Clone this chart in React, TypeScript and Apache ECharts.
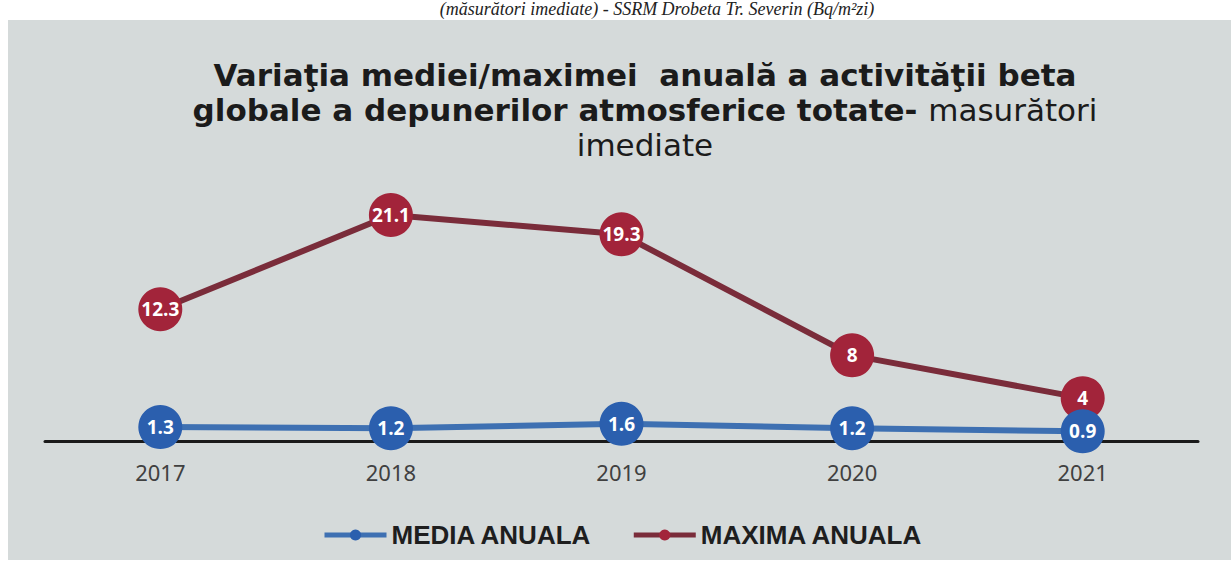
import React, { useEffect, useRef } from "react";
import * as echarts from "echarts";

const years = ["2017", "2018", "2019", "2020", "2021"];
const mediaAnuala = [1.3, 1.2, 1.6, 1.2, 0.9];
const maximaAnuala = [12.3, 21.1, 19.3, 8, 4];
const seriesNames = ["MEDIA ANUALA", "MAXIMA ANUALA"];
const titleLine1 = "Variaţia mediei/maximei  anuală a activităţii beta";
const titleLine2Bold = "globale a depunerilor atmosferice totate- ";
const titleLine2Regular = "masurători";
const titleLine3 = "imediate";
const headerText = "(măsurători imediate) - SSRM Drobeta Tr. Severin (Bq/m²zi)";

export default function App() {
  const ref = useRef<HTMLDivElement>(null);
  useEffect(() => {
    if (!ref.current) return;
    const chart = echarts.init(ref.current, undefined, { renderer: "svg" });
    const labelStyle = {
      show: true,
      position: "inside" as const,
      color: "#ffffff",
      fontFamily: "Open Sans",
      fontWeight: "bold" as const,
      fontSize: 19,
    };
    chart.setOption({
      animation: false,
      backgroundColor: "#ffffff",
      graphic: [
        {
          type: "rect",
          z: -10,
          shape: { x: 8, y: 20, width: 1223, height: 540 },
          style: { fill: "#d5dada" },
        },
        {
          type: "text",
          z: 10,
          x: 657,
          y: 9,
          style: {
            text: headerText,
            fontFamily: "Liberation Serif",
            fontStyle: "italic",
            fontSize: 18,
            fill: "#222222",
            textAlign: "center",
            textVerticalAlign: "middle",
          },
        },
      ],
      title: {
        left: 640,
        top: 52,
        textAlign: "center",
        text:
          "{b|" + titleLine1 + "}\n{b|" + titleLine2Bold + "}{r|" + titleLine2Regular + "}\n{r|" + titleLine3 + "}",
        textStyle: {
          rich: {
            b: {
              fontFamily: "DejaVu Sans",
              fontWeight: "bold",
              fontSize: 31,
              lineHeight: 35,
              color: "#1b1b1b",
            },
            r: {
              fontFamily: "DejaVu Sans",
              fontWeight: "normal",
              fontSize: 31,
              lineHeight: 35,
              color: "#1b1b1b",
            },
          },
        },
      },
      legend: {
        left: 317,
        top: 517,
        itemGap: 39,
        itemWidth: 62,
        itemHeight: 14,
        lineStyle: { width: 5 },
        textStyle: {
          fontFamily: "Liberation Sans",
          fontWeight: "bold",
          fontSize: 26,
          color: "#1e1e1e",
        },
        data: seriesNames,
      },
      grid: { left: 45, right: 33, top: 184, bottom: 130 },
      xAxis: {
        type: "category",
        data: years,
        boundaryGap: true,
        axisLine: { show: true, lineStyle: { color: "#1a1a1a", width: 3 } },
        axisTick: { show: false },
        axisLabel: {
          margin: 20,
          fontFamily: "Noto Sans",
          fontSize: 22,
          color: "#404040",
        },
      },
      yAxis: {
        type: "value",
        min: 0,
        max: 24,
        show: false,
        splitLine: { show: false },
      },
      series: [
        {
          name: seriesNames[0],
          type: "line",
          data: mediaAnuala,
          symbol: "circle",
          symbolSize: 44,
          z: 3,
          lineStyle: { color: "#3e70b2", width: 6 },
          itemStyle: { color: "#2b5fae" },
          label: labelStyle,
        },
        {
          name: seriesNames[1],
          type: "line",
          data: maximaAnuala,
          symbol: "circle",
          symbolSize: 44,
          z: 2,
          lineStyle: { color: "#7a2c3a", width: 6 },
          itemStyle: { color: "#a2243a" },
          label: labelStyle,
        },
      ],
    });
    return () => chart.dispose();
  }, []);
  return (
    <div
      ref={ref}
      style={{ position: "fixed", left: 0, top: 0, width: 1231, height: 571 }}
    />
  );
}
